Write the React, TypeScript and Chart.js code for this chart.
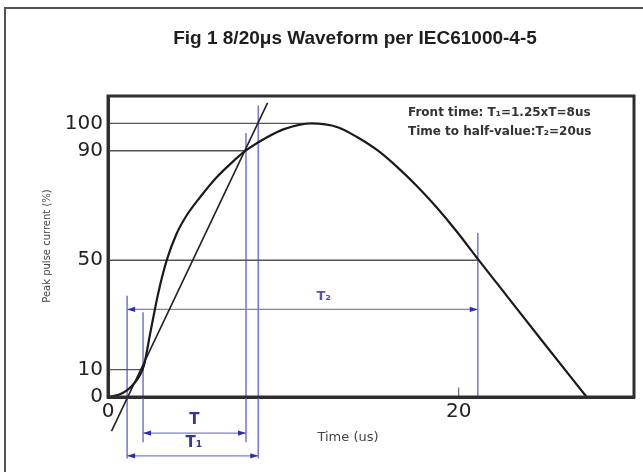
import React, { useEffect, useRef } from 'react';
import { Chart, registerables } from 'chart.js';

Chart.register(...registerables);

// Waveform (time in us, current in % of peak)
const waveT = [0, 0.6, 1.1, 1.5, 1.8, 2.05, 2.4, 2.85, 3.35, 3.9, 4.5, 5.25, 6.2, 7.0, 7.85, 9.1, 10.0, 11.6, 13.1, 14.2, 15.4, 16.5, 17.6, 18.7, 19.9, 21.1, 22.3, 24.8, 27.3];
const waveI = [0, 0.8, 2.5, 5.0, 7.8, 11.5, 23, 37.5, 50, 59.5, 66.5, 73, 80.3, 85.3, 90, 95, 97.8, 100, 98.6, 95, 90, 84, 77.2, 69.6, 60.4, 50.4, 40.6, 20.2, 0];

const yTickValues = [0, 10, 50, 90, 100];
const xTickValues = [0, 20];

// grey reference levels and the time where each meets the curve
const refLevels = [10, 50, 90, 100];
const refEnds = [2.0, 21.09, 7.87, 11.5];

// straight line through the 10% and 90% points
const tangentT = [0.2, 9.1];
const tangentI = [-12.5, 107.5];

// blue vertical markers
const markerT = [1.09, 2.0, 7.87, 8.57, 21.09];
const markerTop = [37, 31, 96.5, 106.5, 60];
const markerBottom = [-22.5, -16.5, -16.5, -22.5, 0];

// dimension arrows
const spanNames = ['T₂', 'T', 'T₁'];
const spanLevel = [32, -13.2, -21.5];
const spanStart = [1.09, 2.0, 1.09];
const spanEnd = [21.09, 7.87, 8.57];
const spanLabelT = [12.3, 4.93, 4.9];
const spanLabelI = [36.5, -8.4, -16.8];

const tickMarkT = [20, 20];
const tickMarkI = [0, 3.5];

const titleText = 'Fig 1 8/20μs Waveform per IEC61000-4-5';
const noteLines = ['Front time: T₁=1.25xT=8us', 'Time to half-value:T₂=20us'];
const xTitle = 'Time (us)';
const yTitle = 'Peak pulse current (%)';

const BLUE = '#7c7cd8';

const decorPlugin = {
  id: 'decor',
  afterDraw(chart: any) {
    const ctx = chart.ctx as CanvasRenderingContext2D;
    const area = chart.chartArea;
    const sx = chart.scales.x;
    const sy = chart.scales.y;
    const W = chart.width;
    const H = chart.height;
    ctx.save();

    // outer frame (top + left)
    ctx.strokeStyle = '#555';
    ctx.lineWidth = 2;
    ctx.beginPath();
    ctx.moveTo(W, 8);
    ctx.lineTo(5, 8);
    ctx.lineTo(5, H);
    ctx.stroke();

    // plot frame
    ctx.strokeStyle = '#2e2e2e';
    ctx.lineWidth = 3;
    ctx.strokeRect(area.left, area.top, area.right - area.left, area.bottom - area.top);

    // title
    ctx.fillStyle = '#1e1e1e';
    ctx.font = 'bold 19px "Liberation Sans", Arial, sans-serif';
    ctx.textAlign = 'center';
    ctx.textBaseline = 'middle';
    ctx.fillText(titleText, 355, 39);

    // notes
    ctx.fillStyle = '#333';
    ctx.font = 'bold 12px "DejaVu Sans", sans-serif';
    ctx.textAlign = 'left';
    noteLines.forEach((s, i) => ctx.fillText(s, area.left + 300, area.top + 17 + i * 19));

    // axis titles
    ctx.fillStyle = '#444';
    ctx.font = '13px "DejaVu Sans", sans-serif';
    ctx.textAlign = 'center';
    ctx.fillText(xTitle, 348, 438);
    ctx.save();
    ctx.translate(47, 246);
    ctx.rotate(-Math.PI / 2);
    ctx.font = '10px "DejaVu Sans", sans-serif';
    ctx.fillText(yTitle, 0, 0);
    ctx.restore();

    // arrowheads + labels
    spanNames.forEach((name, i) => {
      const y = sy.getPixelForValue(spanLevel[i]);
      const x0 = sx.getPixelForValue(spanStart[i]);
      const x1 = sx.getPixelForValue(spanEnd[i]);
      ctx.fillStyle = '#2f2fa0';
      ctx.beginPath();
      ctx.moveTo(x0, y);
      ctx.lineTo(x0 + 8, y - 2.6);
      ctx.lineTo(x0 + 8, y + 2.6);
      ctx.closePath();
      ctx.fill();
      ctx.beginPath();
      ctx.moveTo(x1, y);
      ctx.lineTo(x1 - 8, y - 2.6);
      ctx.lineTo(x1 - 8, y + 2.6);
      ctx.closePath();
      ctx.fill();
      ctx.fillStyle = i === 0 ? '#5050b8' : '#363690';
      ctx.font = i === 0 ? 'bold 13px "DejaVu Sans", sans-serif' : 'bold 15px "DejaVu Sans", sans-serif';
      ctx.textAlign = 'center';
      ctx.fillText(name, sx.getPixelForValue(spanLabelT[i]), sy.getPixelForValue(spanLabelI[i]));
    });

    ctx.restore();
  },
};

export default function App() {
  const ref = useRef<HTMLCanvasElement | null>(null);

  useEffect(() => {
    document.body.style.margin = '0';
    const pts = (xs: number[], ys: number[]) => xs.map((x, i) => ({ x, y: ys[i] }));
    const line = (data: any[], color: string, width: number, extra: any = {}) => ({
      data,
      borderColor: color,
      backgroundColor: color,
      borderWidth: width,
      pointRadius: 0,
      showLine: true,
      clip: false,
      ...extra,
    });

    const datasets: any[] = [
      line(pts(waveT, waveI), '#1a1a1a', 2.2, { cubicInterpolationMode: 'monotone' }),
      line(pts(tangentT, tangentI), '#222', 1.6),
      ...refLevels.map((lv, i) => line(pts([0, refEnds[i]], [lv, lv]), '#555', 1.4)),
      ...markerT.map((t, i) => line(pts([t, t], [markerBottom[i], markerTop[i]]), BLUE, 1.6)),
      ...spanNames.map((_, i) => line(pts([spanStart[i], spanEnd[i]], [spanLevel[i], spanLevel[i]]), BLUE, 1.3)),
      line(pts(tickMarkT, tickMarkI), '#666', 1.2),
    ];

    const chart = new Chart(ref.current as HTMLCanvasElement, {
      type: 'scatter',
      data: { datasets },
      options: {
        animation: false,
        responsive: true,
        maintainAspectRatio: false,
        events: [],
        layout: { padding: { left: 0, top: 96, right: 9, bottom: 0 } },
        plugins: { legend: { display: false }, tooltip: { enabled: false }, title: { display: false } },
        scales: {
          x: {
            type: 'linear',
            min: 0,
            max: 30,
            afterBuildTicks: (s: any) => { s.ticks = xTickValues.map((v) => ({ value: v })); },
            afterFit: (s: any) => { s.height = 75; },
            ticks: {
              autoSkip: false,
              maxRotation: 0,
              padding: 3,
              color: '#222',
              font: { family: '"DejaVu Sans", sans-serif', size: 20 },
            },
            grid: { display: false, drawTicks: false },
            border: { display: true, color: '#2e2e2e', width: 3 },
          },
          y: {
            type: 'linear',
            min: 0,
            max: 110,
            afterBuildTicks: (s: any) => { s.ticks = yTickValues.map((v) => ({ value: v })); },
            afterFit: (s: any) => { s.width = 108; },
            ticks: {
              autoSkip: false,
              padding: 5,
              color: '#222',
              font: { family: '"DejaVu Sans", sans-serif', size: 20 },
            },
            grid: { display: false, drawTicks: false },
            border: { display: true, color: '#2e2e2e', width: 3 },
          },
        },
      },
      plugins: [decorPlugin],
    });
    return () => chart.destroy();
  }, []);

  return (
    <div style={{ position: 'fixed', left: 0, top: 0, width: 643, height: 472, background: '#fff' }}>
      <canvas ref={ref} />
    </div>
  );
}
